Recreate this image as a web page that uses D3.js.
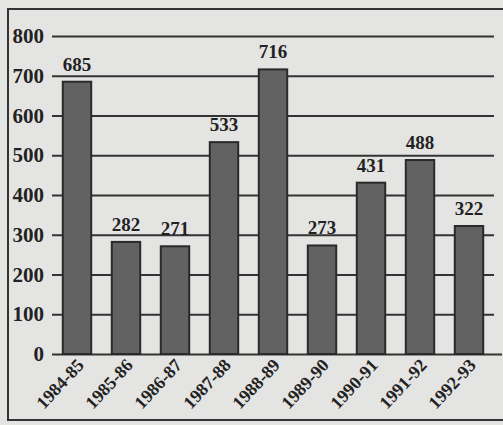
<!DOCTYPE html>
<html>
<head>
<meta charset="utf-8">
<script src="https://cdn.jsdelivr.net/npm/d3@7"></script>
<style>
  html, body { margin: 0; padding: 0; background: #e4e4e2; }
  svg { display: block; }
  text { font-family: "Liberation Serif", "Times New Roman", serif; font-weight: bold; fill: #222; }
</style>
</head>
<body>
<div id="chart"></div>
<script>
// data
var years = ["1984-85", "1985-86", "1986-87", "1987-88", "1988-89", "1989-90", "1990-91", "1991-92", "1992-93"];
var values = [685, 282, 271, 533, 716, 273, 431, 488, 322];
var yTicks = [0, 100, 200, 300, 400, 500, 600, 700, 800];

var W = 503, H = 425;
var plotL = 52, plotR = 494, plotT = 36, plotB = 354;

var svg = d3.select("#chart").append("svg")
    .attr("width", W).attr("height", H);

// outer frame
svg.append("rect")
    .attr("x", 8).attr("y", 9)
    .attr("width", W).attr("height", 411)
    .attr("fill", "none").attr("stroke", "#333").attr("stroke-width", 2);

var x = d3.scaleBand().domain(years).range([plotL, plotR])
    .paddingInner(0.42).paddingOuter(0.22);
var y = d3.scaleLinear().domain([0, 800]).range([plotB, plotT]);

// gridlines + tick labels
var yAxis = d3.axisLeft(y).tickValues(yTicks).tickSize(-(plotR - plotL)).tickPadding(8).tickFormat(d3.format("d"));
var gy = svg.append("g").attr("transform", "translate(" + plotL + ",0)").call(yAxis);
gy.select(".domain").remove();
gy.selectAll(".tick line").attr("stroke", "#333").attr("stroke-width", 2);
gy.selectAll(".tick text").attr("font-size", 21).attr("fill", "#222")
    .style("font-family", "'Liberation Serif', serif").style("font-weight", "bold");
// baseline is a little longer
gy.selectAll(".tick").filter(function(d) { return d === 0; }).select("line")
    .attr("x2", plotR - plotL + 8);

// bars
svg.selectAll(".bar").data(values).enter().append("rect")
    .attr("class", "bar")
    .attr("x", function(d, i) { return x(years[i]); })
    .attr("width", x.bandwidth())
    .attr("y", function(d) { return y(d); })
    .attr("height", function(d) { return y(0) - y(d); })
    .attr("fill", "#626262").attr("stroke", "#2a2a2a").attr("stroke-width", 2);

// value labels
svg.selectAll(".val").data(values).enter().append("text")
    .attr("class", "val")
    .attr("x", function(d, i) { return x(years[i]) + x.bandwidth() / 2; })
    .attr("y", function(d) { return y(d) - 11; })
    .attr("text-anchor", "middle")
    .attr("font-size", 19)
    .text(function(d) { return d; });

// x labels, rotated
svg.selectAll(".xl").data(years).enter().append("text")
    .attr("class", "xl")
    .attr("text-anchor", "end")
    .attr("font-size", 18)
    .attr("transform", function(d) {
        return "translate(" + (x(d) + x.bandwidth() / 2 + 8) + "," + (plotB + 12) + ")rotate(-47)";
    })
    .text(function(d) { return d; });
</script>
</body>
</html>
